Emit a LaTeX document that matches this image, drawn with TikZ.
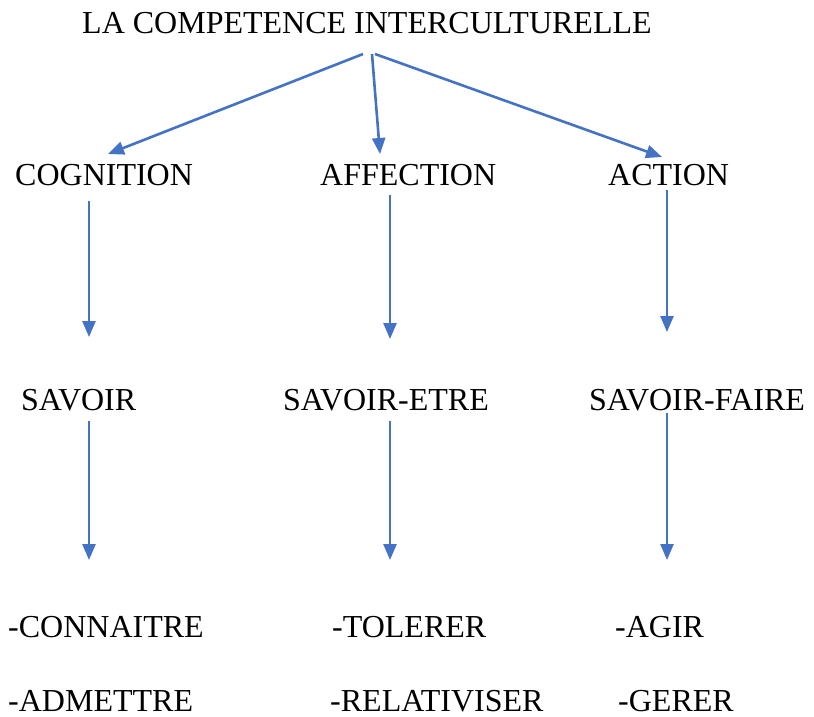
\documentclass[tikz,border=0pt]{standalone}
\usepackage{fontspec}
\setmainfont{Liberation Serif}
\usetikzlibrary{arrows.meta}
\definecolor{arrowblue}{HTML}{4472C4}
\begin{document}
\begin{tikzpicture}[x=1pt,y=-1pt,
  lbl/.style={anchor=base west,inner sep=0pt,font=\fontsize{32}{38}\selectfont},
  conn/.style={draw=arrowblue,line width=2.6pt,-{Triangle[length=16pt,width=13pt]}}]
\useasboundingbox (0,0) rectangle (814,716);
% text nodes
\node[lbl] (title) at (82,33) {LA COMPETENCE INTERCULTURELLE};
\node[lbl] (cog) at (15,185) {COGNITION};
\node[lbl] (aff) at (320,185) {AFFECTION};
\node[lbl] (act) at (608,185) {ACTION};
\node[lbl] (sav) at (21,410) {SAVOIR};
\node[lbl] (save) at (283,410) {SAVOIR-ETRE};
\node[lbl] (savf) at (589,410) {SAVOIR-FAIRE};
\node[lbl] (con) at (8,637) {-CONNAITRE};
\node[lbl] (tol) at (332,637) {-TOLERER};
\node[lbl] (agi) at (615,637) {-AGIR};
\node[lbl] (adm) at (8,711) {-ADMETTRE};
\node[lbl] (rel) at (330,711) {-RELATIVISER};
\node[lbl] (ger) at (618,711) {-GERER};
% connector end points
\coordinate (t1) at (363,54);
\coordinate (t2) at (372,54);
\coordinate (t3) at (375,54);
\coordinate (cogIn) at (108,154);
\coordinate (affIn) at (380,154);
\coordinate (actIn) at (662,157);
\coordinate (cogOut) at (89,201);
\coordinate (affOut) at (390,195);
\coordinate (actOut) at (667,190);
\coordinate (savIn) at (89,337);
\coordinate (saveIn) at (390,339);
\coordinate (savfIn) at (667,332);
\coordinate (savOut) at (89,421);
\coordinate (saveOut) at (390,421);
\coordinate (savfOut) at (667,413);
\coordinate (conIn) at (89,560);
\coordinate (tolIn) at (390,560);
\coordinate (agiIn) at (667,560);
% connectors
\draw[conn] (t1) -- (cogIn);
\draw[conn] (t2) -- (affIn);
\draw[conn] (t3) -- (actIn);
\draw[conn] (cogOut) -- (savIn);
\draw[conn] (affOut) -- (saveIn);
\draw[conn] (actOut) -- (savfIn);
\draw[conn] (savOut) -- (conIn);
\draw[conn] (saveOut) -- (tolIn);
\draw[conn] (savfOut) -- (agiIn);
\end{tikzpicture}
\end{document}
